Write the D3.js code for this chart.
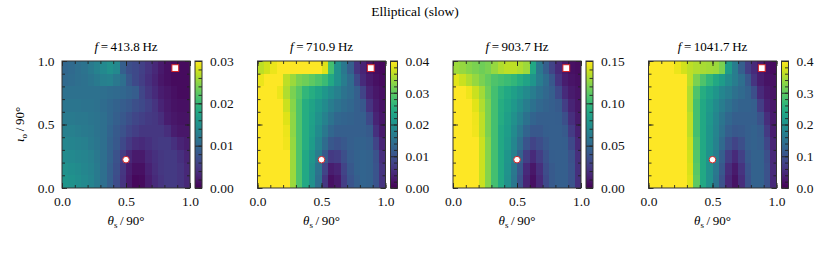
<!DOCTYPE html>
<html>
<head>
<meta charset="utf-8">
<script src="https://cdn.jsdelivr.net/npm/d3@7"></script>
<style>
  body { margin: 0; background: #fff; }
  svg { display: block; }
  text { font-family: "Liberation Serif", "Times New Roman", serif; }
</style>
</head>
<body>
<svg id="chart"></svg>
<script>
// grid of the maps: theta_s / 90deg (columns) and iota_o / 90deg (rows, top first)
const thetaS = [0.025, 0.075, 0.125, 0.175, 0.225, 0.275, 0.325, 0.375, 0.425, 0.475,
                0.525, 0.575, 0.625, 0.675, 0.725, 0.775, 0.825, 0.875, 0.925, 0.975];
const iotaO = [0.95, 0.85, 0.75, 0.65, 0.55, 0.45, 0.35, 0.25, 0.15, 0.05];

const freqs = [413.8, 710.9, 903.7, 1041.7];
const cbarMax = [0.03, 0.04, 0.15, 0.4];
const cbarMajor = [0.01, 0.01, 0.05, 0.1];
const cbarMinor = [0.002, 0.002, 0.01, 0.02];
const cbarFormat = [".2f", ".2f", ".2f", ".1f"];

// amplitude maps, in units of 1e-3 (rows top -> bottom)
const amp413 = [
  [9.9,10.2,10.8,11.4,12.3,13.2,14.1,15.0,14.1,9.0,7.2,6.6,5.7,4.5,3.3,2.1,1.2,0.9,0.9,0.9],
  [10.2,10.5,10.8,11.1,11.7,12.3,12.9,13.2,12.0,10.8,8.1,6.6,5.4,4.2,3.0,1.8,1.2,0.9,0.9,0.9],
  [11.1,11.1,11.1,11.1,11.1,11.1,10.8,10.5,10.2,9.9,9.3,8.7,6.3,4.8,3.6,2.4,1.8,1.2,0.9,0.9],
  [11.7,11.7,11.7,11.4,11.4,11.1,10.5,9.9,9.3,8.7,8.1,7.2,6.6,5.7,4.5,3.0,2.1,1.5,1.2,1.2],
  [12.3,12.3,12.0,12.0,11.7,11.4,10.8,9.9,9.0,8.1,7.2,6.3,5.7,5.1,4.8,3.9,2.4,1.8,1.5,1.5],
  [12.9,12.9,12.6,12.3,12.0,11.4,10.8,9.6,8.4,7.5,6.3,5.4,4.8,4.8,4.8,4.8,3.9,2.4,1.8,1.8],
  [13.8,13.5,13.2,12.9,12.3,11.7,10.8,9.3,8.1,6.6,5.1,3.9,3.6,4.2,4.8,5.1,5.1,4.2,3.0,2.4],
  [14.4,14.1,13.8,13.5,12.9,12.0,10.8,9.3,7.5,5.4,3.3,2.1,2.1,3.3,4.2,4.8,5.1,5.1,4.2,3.0],
  [15.0,14.7,14.4,13.8,13.2,12.3,10.8,9.0,7.2,4.8,2.4,1.2,1.2,2.7,3.9,4.8,5.1,5.1,4.5,3.3],
  [15.6,15.3,14.7,14.1,13.5,12.3,10.8,9.0,6.9,4.5,2.1,0.6,0.9,2.4,3.6,4.5,5.1,5.1,4.5,3.3]
];
const amp711 = [
  [36,37.2,38.8,40,42,44,44,44,42,40,38,28,20,16,12,6,4,2,1.2,0.8],
  [38.8,40,40,40,36,34,32,31.2,30,28.8,27.2,24,20,16.8,14,8.8,4.8,2.8,1.6,1.2],
  [44,44,42,38.8,35.2,32,29.6,26.4,24.8,23.2,21.2,19.2,17.2,15.2,14,12,8,4,2.4,1.6],
  [48,48,46,42,36.8,32.8,28.8,24.8,23.2,21.2,19.2,16.8,15.2,14,13.2,12,10.8,6,3.2,2],
  [50,50,48,44,38,33.2,28.8,24.8,22.8,20,17.6,15.2,13.2,12.8,12.4,12,12,8.8,4,2.4],
  [52,52,50,44.8,38.8,33.2,28.8,24.8,22.4,19.2,16,13.2,12,12,12,12,12,11.2,5.6,2.8],
  [52,52,50,46,39.2,33.6,28.8,24.8,22,18,14,10.8,10,10.8,12,12.4,12.4,12,8,4],
  [54,54,52,46,40,34,28.8,24,20.8,16.8,11.2,6.8,7.2,9.6,11.6,12.4,12.8,12.4,10,5.2],
  [54,54,52,46,40,34,28.8,24,20,15.2,8,3.2,4,8,10.8,12.4,12.8,12.4,10.4,6],
  [54,54,52,46,40,34,28.8,24,20,14.4,6.4,1.6,2.8,7.2,10.4,12,12.8,12.4,10.4,6]
];
const amp904 = [
  [128,126,123,120,117,120,126,132,135,135,132,128,90,60,45,30,18,9,6,5],
  [143,138,132,126,120,114,108,105,102,99,93,87,78,63,53,41,23,12,8,6],
  [150,150,146,138,129,117,105,96,90,84,78,71,63,56,50,45,33,18,11,8],
  [158,158,150,143,132,120,105,93,87,80,72,63,56,50,47,45,42,27,15,9],
  [165,165,158,146,135,120,105,92,84,75,66,56,48,45,45,45,44,36,20,11],
  [165,165,158,147,135,120,105,90,83,72,60,48,41,41,44,45,45,42,26,14],
  [173,173,162,150,138,122,105,90,81,69,54,39,30,35,41,45,45,44,33,17],
  [173,173,165,150,138,122,105,90,78,65,47,27,18,27,38,44,45,45,38,20],
  [173,173,165,150,138,122,105,90,77,60,41,18,9,20,35,42,45,45,39,21],
  [173,173,165,150,138,122,105,90,75,59,38,15,6,17,33,42,45,45,39,21]
];
const amp1042 = [
  [440,440,420,400,388,372,360,352,348,344,340,320,220,168,120,72,48,28,16,12],
  [480,480,460,440,420,400,360,320,288,264,240,220,192,168,144,108,60,32,20,16],
  [520,520,500,480,440,408,352,288,248,228,208,184,168,148,136,124,96,48,28,20],
  [520,520,520,480,448,412,352,280,240,216,192,168,148,132,124,124,120,72,36,24],
  [540,540,520,500,460,420,360,280,240,212,184,156,132,120,120,120,120,100,52,28],
  [540,540,520,500,460,420,360,280,240,208,180,148,120,108,112,120,124,116,68,32],
  [560,560,540,500,460,420,368,288,240,208,176,136,100,80,96,120,124,120,84,40],
  [560,560,540,500,460,420,372,292,240,204,168,120,72,48,76,112,124,124,96,44],
  [560,560,540,500,460,420,376,296,240,200,160,108,52,28,60,104,124,124,100,48],
  [560,560,540,500,460,420,380,300,240,200,156,100,44,20,52,100,124,124,100,48]
];
const maps = [amp413, amp711, amp904, amp1042];

// the two marked configurations (theta_s, iota_o)
const circlePt = [0.5, 0.223];
const squarePt = [0.885, 0.944];

const W = 830, H = 256;
const plotLeft = [62, 257.5, 453, 648.5];
const plotTop = 61, pw = 128, ph = 127;
const cbGap = 5, cbW = 7;
const fg = "#222";
const serif = "'Liberation Serif', 'Times New Roman', serif";

const svg = d3.select("#chart").attr("width", W).attr("height", H)
  .attr("font-family", serif);

svg.append("text")
  .attr("x", 415).attr("y", 15.5)
  .attr("text-anchor", "middle")
  .style("font-size", "13.5px")
  .text("Elliptical (slow)");

const defs = svg.append("defs");
const grad = defs.append("linearGradient")
  .attr("id", "viridis").attr("x1", 0).attr("y1", 1).attr("x2", 0).attr("y2", 0);
d3.range(0, 1.0001, 0.05).forEach(t => {
  grad.append("stop").attr("offset", t).attr("stop-color", d3.interpolateViridis(t));
});

function styleAxis(g) {
  g.attr("font-family", serif).attr("font-size", 13.5);
  g.select(".domain").remove();
  g.selectAll(".tick line").attr("stroke", fg).attr("stroke-width", 0.9);
  g.selectAll(".tick text").attr("fill", "#111");
}

maps.forEach((amp, i) => {
  const vmax = cbarMax[i];
  const g = svg.append("g").attr("transform", `translate(${plotLeft[i]},${plotTop})`);

  const x = d3.scaleLinear().domain([0, 1]).range([0, pw]);
  const y = d3.scaleLinear().domain([0, 1]).range([ph, 0]);
  const xb = d3.scaleBand().domain(thetaS).range([0, pw]);
  const yb = d3.scaleBand().domain(iotaO).range([0, ph]);
  const color = d3.scaleSequential(d3.interpolateViridis).domain([0, vmax]).clamp(true);

  const cells = [];
  amp.forEach((row, r) => row.forEach((v, c) => cells.push({ th: thetaS[c], io: iotaO[r], v: v / 1000 })));

  g.append("g").selectAll("rect")
    .data(cells)
    .join("rect")
    .attr("x", d => xb(d.th))
    .attr("y", d => yb(d.io))
    .attr("width", xb.bandwidth() + 0.3)
    .attr("height", yb.bandwidth() + 0.3)
    .attr("fill", d => color(d.v))
    .attr("shape-rendering", "crispEdges");

  // inward ticks on all four sides
  const minorV = d3.range(0, 1.0001, 0.1);
  const majorV = [0, 0.5, 1];
  [
    [d3.axisBottom(x), `translate(0,${ph})`],
    [d3.axisTop(x), `translate(0,0)`],
    [d3.axisLeft(y), `translate(0,0)`],
    [d3.axisRight(y), `translate(${pw},0)`]
  ].forEach(([ax, tr]) => {
    g.append("g").attr("transform", tr)
      .call(ax.tickValues(minorV).tickSize(-3).tickFormat(""))
      .call(styleAxis);
  });
  g.append("g").attr("transform", `translate(0,${ph})`)
    .call(d3.axisBottom(x).tickValues(majorV).tickSize(-5).tickPadding(8.5).tickFormat(d3.format(".1f")))
    .call(styleAxis);
  g.append("g")
    .call(d3.axisTop(x).tickValues(majorV).tickSize(-5).tickFormat(""))
    .call(styleAxis);
  g.append("g")
    .call(d3.axisLeft(y).tickValues(majorV).tickSize(-5).tickPadding(7.5)
      .tickFormat(i === 0 ? d3.format(".1f") : ""))
    .call(styleAxis);
  g.append("g").attr("transform", `translate(${pw},0)`)
    .call(d3.axisRight(y).tickValues(majorV).tickSize(-5).tickFormat(""))
    .call(styleAxis);

  g.append("rect")
    .attr("width", pw).attr("height", ph)
    .attr("fill", "none").attr("stroke", "#333").attr("stroke-width", 1);

  // markers
  g.append("circle")
    .attr("cx", x(circlePt[0])).attr("cy", y(circlePt[1])).attr("r", 3.3)
    .attr("fill", "#fff").attr("stroke", "#d62728").attr("stroke-width", 1);
  g.append("rect")
    .attr("x", x(squarePt[0]) - 3.4).attr("y", y(squarePt[1]) - 3.4)
    .attr("width", 6.8).attr("height", 6.8)
    .attr("fill", "#fff").attr("stroke", "#d62728").attr("stroke-width", 1);

  // subplot title
  const t = g.append("text")
    .attr("x", pw / 2).attr("y", -10)
    .attr("text-anchor", "middle")
    .style("font-size", "13px");
  t.append("tspan").style("font-style", "italic").text("f");
  t.append("tspan").text(`\u2009=\u2009${freqs[i]}\u2009Hz`);

  // x label
  const xl = g.append("text")
    .attr("x", pw / 2).attr("y", ph + 37)
    .attr("text-anchor", "middle")
    .style("font-size", "13px");
  xl.append("tspan").style("font-style", "italic").text("\u03b8");
  xl.append("tspan").attr("dy", 3).style("font-size", "9px").text("s");
  xl.append("tspan").attr("dy", -3).text("\u2009/\u200990\u00b0");

  if (i === 0) {
    const yl = g.append("text")
      .attr("transform", `translate(-38,${ph / 2}) rotate(-90)`)
      .attr("text-anchor", "middle")
      .style("font-size", "13px");
    yl.append("tspan").style("font-style", "italic").text("\u03b9");
    yl.append("tspan").attr("dy", 3).style("font-size", "9px").text("o");
    yl.append("tspan").attr("dy", -3).text("\u2009/\u200990\u00b0");
  }

  // colorbar
  const cb = svg.append("g").attr("transform", `translate(${plotLeft[i] + pw + cbGap},${plotTop})`);
  const cy = d3.scaleLinear().domain([0, vmax]).range([ph, 0]);
  cb.append("rect").attr("width", cbW).attr("height", ph).attr("fill", "url(#viridis)");
  cb.append("g").attr("transform", `translate(${cbW},0)`)
    .call(d3.axisRight(cy).tickValues(d3.range(0, vmax + 1e-9, cbarMinor[i])).tickSize(-3.5).tickFormat(""))
    .call(styleAxis);
  cb.append("g").attr("transform", `translate(${cbW},0)`)
    .call(d3.axisRight(cy).tickValues(d3.range(0, vmax + 1e-9, cbarMajor[i])).tickSize(-7).tickPadding(8)
      .tickFormat(d3.format(cbarFormat[i])))
    .call(styleAxis);
  cb.append("rect").attr("width", cbW).attr("height", ph)
    .attr("fill", "none").attr("stroke", "#333").attr("stroke-width", 1);
});
</script>
</body>
</html>
